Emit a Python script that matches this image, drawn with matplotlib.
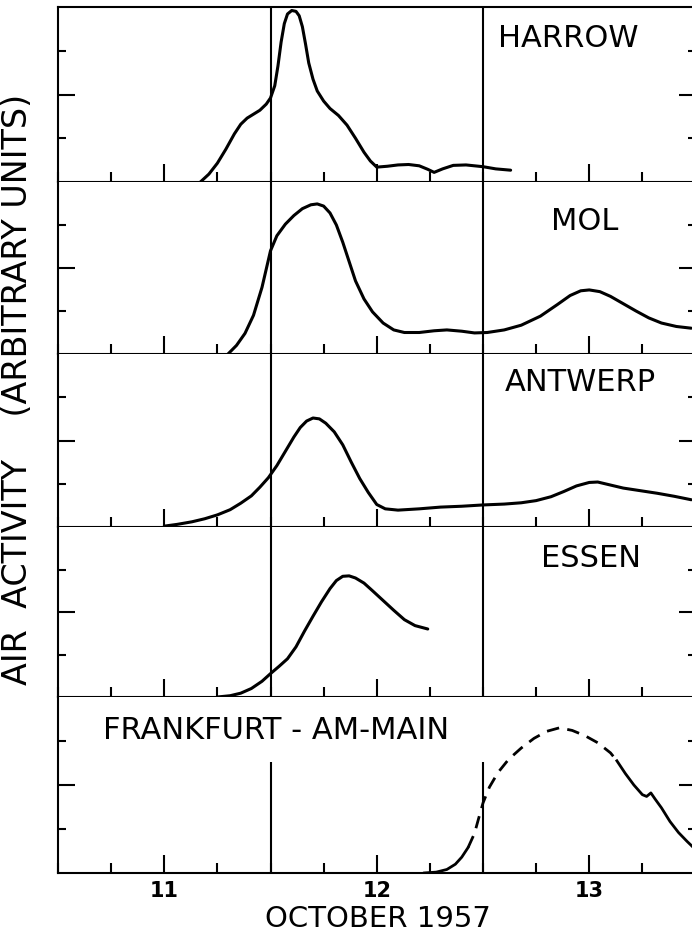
import matplotlib.pyplot as plt
from matplotlib.ticker import MultipleLocator, FixedLocator

# time axis in days of October 1957
day_ticks = [11, 12, 13]
day_labels = ['11', '12', '13']
window_lines = [11.5, 12.5]

stations = ['HARROW', 'MOL', 'ANTWERP', 'ESSEN', 'FRANKFURT - AM-MAIN']

harrow_x = [11.17, 11.21, 11.25, 11.29, 11.33, 11.36, 11.39, 11.42, 11.45, 11.48,
            11.50, 11.52, 11.535, 11.55, 11.565, 11.58, 11.60, 11.62, 11.635, 11.65,
            11.665, 11.68, 11.70, 11.72, 11.75, 11.78, 11.82, 11.86, 11.90, 11.94,
            11.97, 12.0, 12.05, 12.10, 12.15, 12.20, 12.24, 12.27, 12.31, 12.36,
            12.42, 12.50, 12.56, 12.63]
harrow_y = [0.0, 0.18, 0.43, 0.75, 1.10, 1.32, 1.46, 1.55, 1.64, 1.78,
            1.92, 2.20, 2.65, 3.20, 3.62, 3.84, 3.92, 3.90, 3.80, 3.55,
            3.15, 2.72, 2.35, 2.08, 1.85, 1.68, 1.52, 1.30, 1.00, 0.68,
            0.48, 0.34, 0.36, 0.39, 0.40, 0.37, 0.29, 0.22, 0.30, 0.38,
            0.39, 0.35, 0.30, 0.27]

mol_x = [11.30, 11.34, 11.38, 11.42, 11.46, 11.50, 11.53, 11.57, 11.61, 11.65,
         11.69, 11.72, 11.75, 11.78, 11.81, 11.84, 11.87, 11.90, 11.94, 11.98,
         12.03, 12.08, 12.13, 12.20, 12.27, 12.33, 12.40, 12.46, 12.52, 12.60,
         12.68, 12.77, 12.85, 12.91, 12.96, 13.00, 13.05, 13.10, 13.16, 13.22,
         13.28, 13.34, 13.41, 13.48]
mol_y = [0.0, 0.20, 0.48, 0.90, 1.55, 2.40, 2.75, 3.02, 3.22, 3.38,
         3.47, 3.49, 3.44, 3.28, 3.00, 2.60, 2.15, 1.70, 1.28, 0.98,
         0.72, 0.56, 0.50, 0.50, 0.54, 0.56, 0.53, 0.49, 0.50, 0.56,
         0.67, 0.88, 1.15, 1.36, 1.47, 1.49, 1.45, 1.34, 1.17, 1.00,
         0.84, 0.72, 0.64, 0.60]

antwerp_x = [11.0, 11.06, 11.13, 11.19, 11.25, 11.31, 11.36, 11.41, 11.45, 11.49,
             11.53, 11.57, 11.61, 11.64, 11.67, 11.70, 11.73, 11.76, 11.80, 11.84,
             11.88, 11.92, 11.96, 12.0, 12.04, 12.10, 12.20, 12.30, 12.40, 12.50,
             12.60, 12.68, 12.75, 12.82, 12.88, 12.94, 13.00, 13.04, 13.10, 13.16,
             13.24, 13.32, 13.40, 13.48]
antwerp_y = [0.02, 0.06, 0.12, 0.19, 0.28, 0.40, 0.55, 0.72, 0.92, 1.14,
             1.42, 1.75, 2.08, 2.30, 2.45, 2.52, 2.50, 2.40, 2.20, 1.90,
             1.50, 1.12, 0.80, 0.52, 0.42, 0.39, 0.42, 0.46, 0.48, 0.51,
             0.53, 0.56, 0.61, 0.70, 0.82, 0.95, 1.03, 1.04, 0.97, 0.90,
             0.84, 0.78, 0.71, 0.63]

essen_x = [11.25, 11.31, 11.36, 11.41, 11.46, 11.50, 11.54, 11.58, 11.62, 11.66,
           11.70, 11.74, 11.78, 11.81, 11.84, 11.87, 11.90, 11.94, 11.98, 12.03,
           12.08, 12.13, 12.18, 12.24]
essen_y = [0.0, 0.03, 0.09, 0.20, 0.37, 0.55, 0.72, 0.90, 1.18, 1.55,
           1.90, 2.24, 2.55, 2.74, 2.84, 2.85, 2.80, 2.68, 2.50, 2.27,
           2.04, 1.82, 1.68, 1.60]

frank_x = [12.22, 12.28, 12.33, 12.37, 12.40, 12.43, 12.46, 12.48, 12.50, 12.53,
           12.57, 12.62, 12.68, 12.74, 12.80, 12.86, 12.92, 12.98, 13.04, 13.10,
           13.13, 13.17, 13.21, 13.25, 13.27, 13.29, 13.31, 13.34, 13.38, 13.42,
           13.46, 13.49]
frank_y = [0.0, 0.02, 0.08, 0.20, 0.36, 0.58, 0.90, 1.25, 1.59, 1.95,
           2.28, 2.58, 2.84, 3.06, 3.22, 3.30, 3.24, 3.12, 2.96, 2.73,
           2.55, 2.26, 2.00, 1.78, 1.74, 1.82, 1.68, 1.48, 1.17, 0.92,
           0.72, 0.58]
frank_dash_from, frank_dash_to = 5, 20   # dashed (interpolated) stretch

series = [(harrow_x, harrow_y), (mol_x, mol_y), (antwerp_x, antwerp_y),
          (essen_x, essen_y), (frank_x, frank_y)]

# panel edges in pixels (top to bottom) and label spots
edges = [7, 182, 354, 527, 697, 873]
label_pos = [(12.90, 3.29, 'center'), (12.98, 3.07, 'center'), (12.96, 3.33, 'center'),
             (13.01, 3.25, 'center'), (10.71, 3.23, 'left')]

W, H = 692, 940
fig = plt.figure(figsize=(W / 100, H / 100), dpi=100)
plt.rcParams['font.family'] = 'DejaVu Sans'

left = 58 / W
right = 695.5 / W
axes = []
for i in range(5):
    top, bot = edges[i], edges[i + 1]
    ax = fig.add_axes([left, 1 - bot / H, right - left, (bot - top) / H])
    ax.set_xlim(10.5, 13.5)
    ax.set_ylim(0, 4)
    for s in ax.spines.values():
        s.set_linewidth(1.5)
    if i > 0:
        ax.spines['top'].set_visible(False)

    ax.xaxis.set_major_locator(FixedLocator(day_ticks))
    ax.xaxis.set_minor_locator(MultipleLocator(0.25))
    ax.yaxis.set_major_locator(FixedLocator([2]))
    ax.yaxis.set_minor_locator(FixedLocator([1, 3]))
    ax.tick_params(axis='x', which='major', direction='in', length=13, width=1.5,
                   top=False, bottom=True)
    ax.tick_params(axis='x', which='minor', direction='in', length=7, width=1.5,
                   top=False, bottom=True)
    ax.tick_params(axis='y', which='major', direction='in', length=12, width=1.5,
                   left=True, right=True, labelleft=False)
    ax.tick_params(axis='y', which='minor', direction='in', length=6, width=1.5,
                   left=True, right=True)

    if i < 4:
        ax.set_xticklabels([])
        for v in window_lines:
            ax.axvline(v, color='black', lw=1.5)
    else:
        ax.set_xticklabels(day_labels, fontsize=15, fontweight='bold')
        ax.tick_params(axis='x', which='major', pad=6)
        ax.vlines(window_lines, 0, 2.52, color='black', lw=1.5)

    x, y = series[i]
    if i < 4:
        ax.plot(x, y, color='black', lw=2.2, solid_joinstyle='round', solid_capstyle='round')
    else:
        a, b = frank_dash_from, frank_dash_to
        ax.plot(x[:a + 1], y[:a + 1], color='black', lw=2.0, solid_capstyle='round')
        ax.plot(x[a:b + 1], y[a:b + 1], color='black', lw=2.0, ls=(0, (4.5, 3)))
        ax.plot(x[b:], y[b:], color='black', lw=2.0, solid_joinstyle='round')

    lx, ly, ha = label_pos[i]
    ax.text(lx, ly, stations[i], ha=ha, va='center', fontsize=22)
    axes.append(ax)

fig.text(378 / W, 1 - 919 / H, 'OCTOBER 1957', ha='center', va='center', fontsize=21)
fig.text(18 / W, 1 - 389 / H, 'AIR  ACTIVITY    (ARBITRARY UNITS)', rotation=90,
         ha='center', va='center', fontsize=24)

fig.savefig('out.png', dpi=100)
